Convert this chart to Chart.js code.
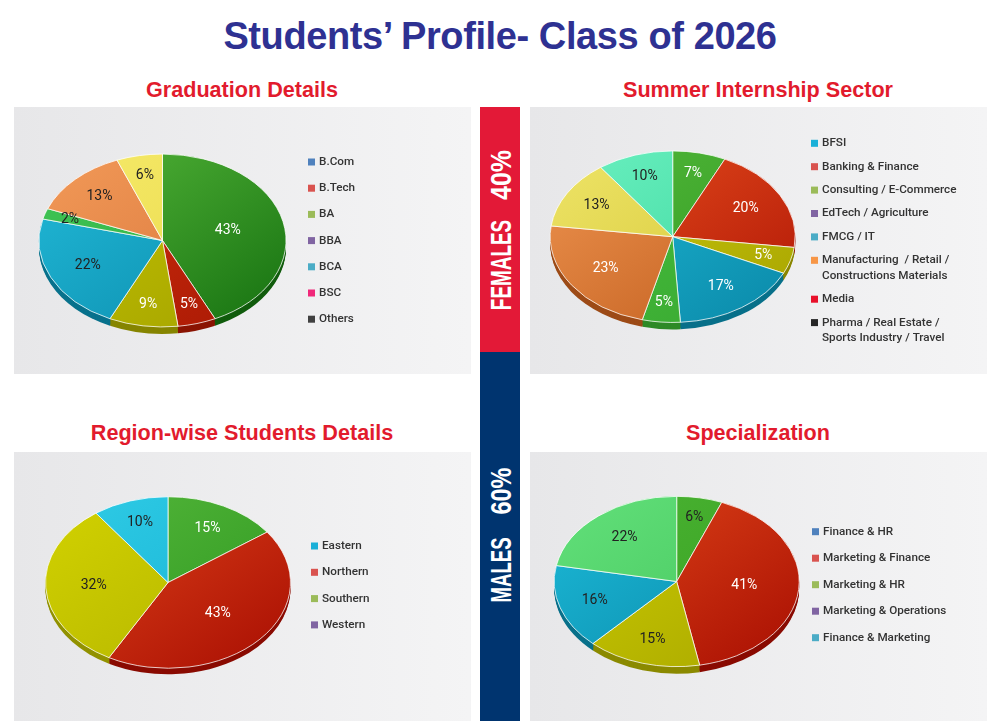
<!DOCTYPE html>
<html>
<head>
<meta charset="utf-8">
<script src="https://cdn.jsdelivr.net/npm/chart.js@4.4.1/dist/chart.umd.min.js"></script>
<style>
  body { margin: 0; width: 997px; height: 721px; background: #fff; position: relative; overflow: hidden; font-family: "Liberation Sans", Arial, sans-serif; }
  .title { position: absolute; left: 0; top: 17px; width: 1000px; text-align: center; font-size: 38px; line-height: 38px; font-weight: bold; color: #2e3192; letter-spacing: -0.4px; }
  .sub { position: absolute; width: 460px; text-align: center; font-size: 21.6px; line-height: 22px; font-weight: bold; color: #e21b2d; }
  .panel { position: absolute; width: 457px; background: linear-gradient(to right, #e7e7e9, #f4f4f5); }
  .panel canvas { position: absolute; left: 0; top: 0; }
  .bar { position: absolute; left: 480px; width: 40px; }
  .vt { position: absolute; left: 401px; width: 200px; height: 30px; line-height: 30px; text-align: center; color: #fff; font-weight: bold; font-size: 30px; white-space: nowrap; }
</style>
</head>
<body>
<div class="title">Students’ Profile- Class of 2026</div>

<div class="sub" style="left:12px;top:79px">Graduation Details</div>
<div class="sub" style="left:528px;top:79px">Summer Internship Sector</div>
<div class="sub" style="left:12px;top:422px">Region-wise Students Details</div>
<div class="sub" style="left:528px;top:422px">Specialization</div>

<div class="panel" style="left:14px;top:107px;height:267px"><canvas id="gradChart" width="457" height="267"></canvas></div>
<div class="panel" style="left:530px;top:107px;height:267px"><canvas id="internChart" width="457" height="267"></canvas></div>
<div class="panel" style="left:14px;top:452px;height:269px"><canvas id="regionChart" width="457" height="269"></canvas></div>
<div class="panel" style="left:530px;top:452px;height:269px"><canvas id="specChart" width="457" height="269"></canvas></div>

<div class="bar" style="top:107px;height:245px;background:#e31937"></div>
<div class="bar" style="top:352px;height:369px;background:#00346f"></div>
<div class="vt" style="top:250px;transform:rotate(-90deg) scaleX(0.63)">FEMALES</div>
<div class="vt" style="top:160px;transform:rotate(-90deg) scaleX(0.83)">40%</div>
<div class="vt" style="top:555px;transform:rotate(-90deg) scaleX(0.62)">MALES</div>
<div class="vt" style="top:476px;transform:rotate(-90deg) scaleX(0.78)">60%</div>

<script>
// ---- dữ liệu ----
const gradLabels = ['B.Com', 'B.Tech', 'BA', 'BBA', 'BCA', 'BSC', 'Others'];
const gradValues = [43, 5, 9, 22, 2, 13, 6];

const internLabels = ['BFSI', 'Banking & Finance', 'Consulting / E-Commerce', 'EdTech / Agriculture', 'FMCG / IT',
    ['Manufacturing  / Retail /', 'Constructions Materials'], 'Media', ['Pharma / Real Estate /', 'Sports Industry / Travel']];
const internValues = [7, 20, 5, 17, 5, 23, 13, 10];

const regionLabels = ['Eastern', 'Northern', 'Southern', 'Western'];
const regionValues = [15, 43, 32, 10];

const specLabels = ['Finance & HR', 'Marketing & Finance', 'Marketing & HR', 'Marketing & Operations', 'Finance & Marketing'];
const specValues = [6, 41, 15, 16, 22];

// ---- màu ----
const WHITE = '#ffffff', DARK = '#222222';

function shade(hex, f) {
    const n = parseInt(hex.slice(1), 16);
    const r = Math.round(((n >> 16) & 255) * f), g = Math.round(((n >> 8) & 255) * f), b = Math.round((n & 255) * f);
    return `rgb(${r},${g},${b})`;
}

// vẽ pie nghiêng + độ dày 3D
const tiltPlugin = {
    id: 'tilt',
    beforeDatasetsDraw(chart, args, opts) {
        const ctx = chart.ctx, a = chart.chartArea, cy = (a.top + a.bottom) / 2;
        ctx.save();
        ctx.translate(0, cy); ctx.scale(1, opts.squash); ctx.translate(0, -cy);
        const meta = chart.getDatasetMeta(0);
        for (let t = opts.depth; t > 0; t--) {
            meta.data.forEach((arc, i) => {
                const p = arc.getProps(['x', 'y', 'startAngle', 'endAngle', 'outerRadius']);
                const oy = p.y + t / opts.squash;
                ctx.beginPath();
                ctx.moveTo(p.x, oy);
                ctx.arc(p.x, oy, p.outerRadius, p.startAngle, p.endAngle);
                ctx.closePath();
                ctx.fillStyle = shade(opts.dark[i], 0.82);
                ctx.fill();
            });
        }
    },
    afterDatasetsDraw(chart, args, opts) {
        const ctx = chart.ctx, a = chart.chartArea, cy = (a.top + a.bottom) / 2;
        ctx.restore();
        // nhãn phần trăm
        const meta = chart.getDatasetMeta(0);
        const values = chart.data.datasets[0].data;
        const total = values.reduce((s, v) => s + v, 0);
        ctx.save();
        ctx.font = '14px Roboto, "Liberation Sans", sans-serif';
        ctx.textAlign = 'center';
        ctx.textBaseline = 'middle';
        meta.data.forEach((arc, i) => {
            const p = arc.getProps(['x', 'y', 'startAngle', 'endAngle', 'outerRadius']);
            const mid = (p.startAngle + p.endAngle) / 2;
            const frac = values[i] / total;
            const rf = Math.min(0.8, Math.max(0.5, 0.5 + 0.3 * (1 - 2 * frac)));
            const x = p.x + Math.cos(mid) * p.outerRadius * rf;
            const y = cy + Math.sin(mid) * p.outerRadius * rf * opts.squash;
            ctx.fillStyle = opts.textColors[i];
            ctx.fillText(values[i] + '%', x, y);
        });
        ctx.restore();
    },
    afterDraw(chart, args, opts) {
        // chú giải
        const ctx = chart.ctx, lg = opts.legend;
        ctx.save();
        ctx.font = '500 11.7px Roboto, "Liberation Sans", sans-serif';
        ctx.textBaseline = 'middle';
        let y = lg.y;
        chart.data.labels.forEach((label, i) => {
            const lines = Array.isArray(label) ? label : [label];
            ctx.fillStyle = lg.colors[i];
            ctx.fillRect(lg.x, y - 3.5, 7, 7);
            ctx.fillStyle = '#333333';
            lines.forEach((ln, j) => ctx.fillText(ln, lg.textX, y + j * lg.lineH));
            y += lg.pitch + (lines.length - 1) * lg.lineH;
        });
        ctx.restore();
    }
};

function renderPie({ canvasId, labels, values, light, dark, textColors, legend, padding, squash = 0.7, depth = 7 }) {
    const canvas = document.getElementById(canvasId);
    if (!canvas) { console.error(`Không tìm thấy canvas "${canvasId}"`); return; }
    return new Chart(canvas.getContext('2d'), {
        type: 'pie',
        data: {
            labels: labels,
            datasets: [{
                data: values,
                backgroundColor: function (c) {
                    const a = c.chart.chartArea;
                    if (!a) return light[c.dataIndex];
                    const g = c.chart.ctx.createLinearGradient(a.left, a.top, a.right, a.bottom);
                    g.addColorStop(0, light[c.dataIndex]);
                    g.addColorStop(1, dark[c.dataIndex]);
                    return g;
                },
                borderColor: 'rgba(255,255,255,0.9)',
                borderWidth: 1
            }]
        },
        options: {
            responsive: false,
            animation: false,
            events: [],
            layout: { padding: padding },
            plugins: {
                legend: { display: false },
                tooltip: { enabled: false },
                tilt: { squash, depth, dark, textColors, legend }
            }
        },
        plugins: [tiltPlugin]
    });
}

renderPie({
    canvasId: 'gradChart', labels: gradLabels, values: gradValues,
    light: ['#56b83a', '#d2300e', '#c4c400', '#22bad8', '#40c656', '#f29a58', '#f6ea6a'],
    dark: ['#157010', '#a81804', '#a4a200', '#0a8aab', '#30aa40', '#d8743a', '#e8d848'],
    textColors: [WHITE, WHITE, WHITE, DARK, DARK, DARK, DARK],
    legend: { x: 294, textX: 305, y: 55, pitch: 26.2, lineH: 15,
        colors: ['#4f81bd', '#d9534f', '#9bbb59', '#8064a2', '#4bacc6', '#f0287a', '#404040'] },
    padding: { left: 24.5, top: 9.5, right: 184.5, bottom: 9.5 }, squash: 0.70
});

renderPie({
    canvasId: 'internChart', labels: internLabels, values: internValues,
    light: ['#52b83a', '#e8501e', '#cccb10', '#20bcd8', '#4ac040', '#ee9450', '#eee468', '#6af0c0'],
    dark: ['#329a22', '#b01606', '#a8a400', '#0a88a8', '#38a830', '#c05c1c', '#d4c634', '#3cd69c'],
    textColors: [WHITE, WHITE, WHITE, WHITE, WHITE, WHITE, DARK, DARK],
    legend: { x: 281, textX: 292, y: 36.3, pitch: 23.4, lineH: 15.5,
        colors: ['#1ab0d8', '#d9534f', '#9bbb59', '#8064a2', '#4bacc6', '#f79646', '#e8102a', '#262626'] },
    padding: { left: 19.7, top: 6.7, right: 191.3, bottom: 14.3 }, squash: 0.70
});

renderPie({
    canvasId: 'regionChart', labels: regionLabels, values: regionValues,
    light: ['#56b83c', '#e2461c', '#d2d200', '#30cce6'],
    dark: ['#2c961e', '#a80e02', '#b2b200', '#14b0d2'],
    textColors: [WHITE, WHITE, DARK, DARK],
    legend: { x: 297, textX: 308, y: 94, pitch: 26.3, lineH: 15,
        colors: ['#1ab0d8', '#d9534f', '#9bbb59', '#8064a2'] },
    padding: { left: 31, top: 7.5, right: 180, bottom: 15.5 }, squash: 0.70, depth: 6
});

renderPie({
    canvasId: 'specChart', labels: specLabels, values: specValues,
    light: ['#4cb434', '#e2481a', '#cccc00', '#1cbad8', '#62e07a'],
    dark: ['#36a020', '#a80e02', '#aaa800', '#0a88a8', '#44c45c'],
    textColors: [DARK, WHITE, DARK, DARK, DARK],
    legend: { x: 282, textX: 293, y: 79.7, pitch: 26.5, lineH: 15,
        colors: ['#4f81bd', '#d9534f', '#9bbb59', '#8064a2', '#4bacc6'] },
    padding: { left: 23.7, top: 6.5, right: 187.3, bottom: 16.5 }, squash: 0.695
});
</script>
</body>
</html>
